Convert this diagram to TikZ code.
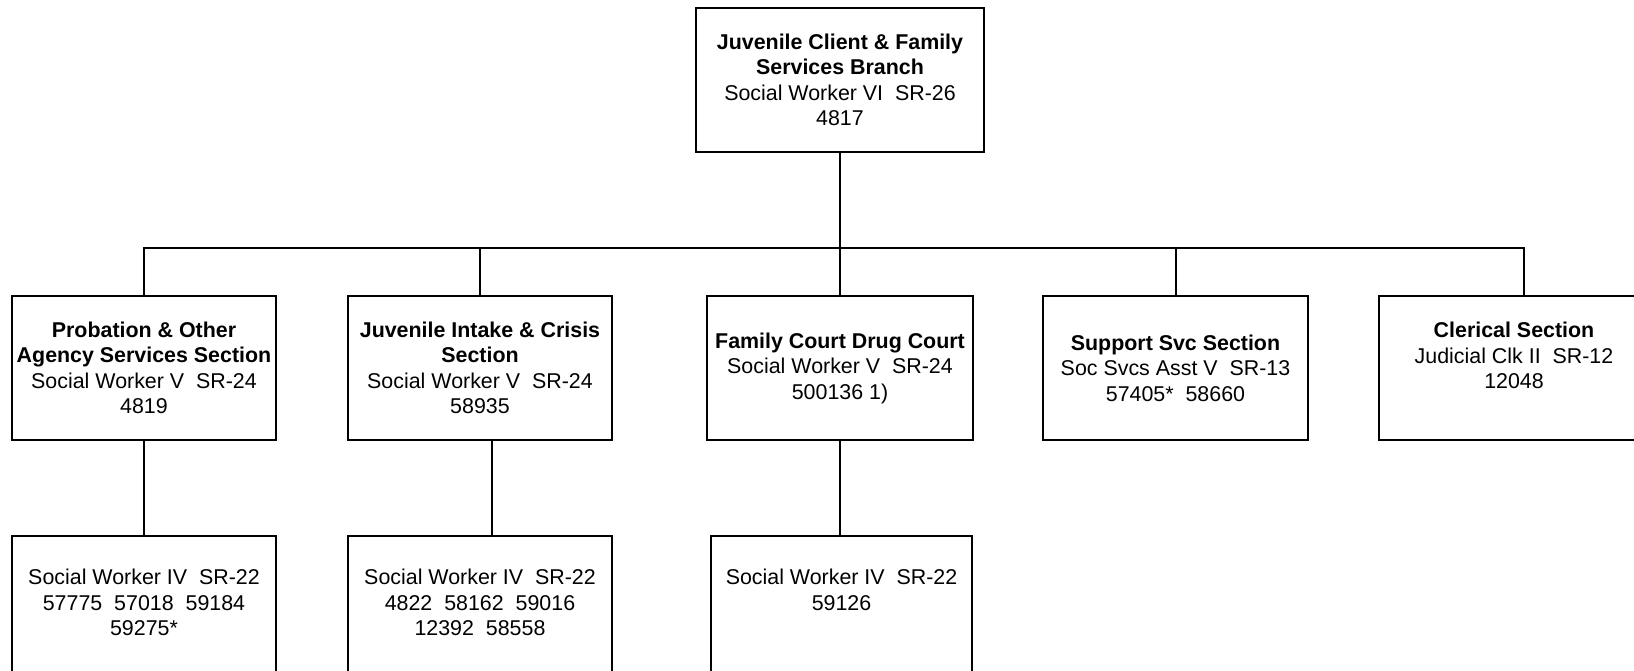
\documentclass[tikz,border=0pt]{standalone}
\usepackage{fontspec}
\setmainfont{Liberation Sans}
\newcommand{\chartfont}{\fontsize{21.4}{25.5}\selectfont}
\begin{document}
\begin{tikzpicture}[x=1pt,y=-1pt,
  box/.style={draw=black,line width=2pt,inner sep=0pt,minimum height=144pt,align=center,font=\chartfont},
  tallbox/.style={draw=black,line width=2pt,inner sep=0pt,minimum height=200pt},
  txt/.style={inner sep=0pt,align=center,font=\chartfont},
  link/.style={draw=black,line width=2pt}]
\useasboundingbox (0,0) rectangle (1634,671);
\fill[white] (0,0) rectangle (1634,671);
\clip (0,0) rectangle (1634,671);
% top
\node[box,minimum width=288pt] (top) at (840,80)
  {\textbf{Juvenile Client \& Family}\\\textbf{Services Branch}\\Social Worker VI\ \ SR-26\\4817};
% level 2
\node[box,minimum width=264pt] (b1) at (144,368)
  {\textbf{Probation \& Other}\\\textbf{Agency Services Section}\\Social Worker V\ \ SR-24\\4819};
\node[box,minimum width=264pt] (b2) at (480,368)
  {\textbf{Juvenile Intake \& Crisis}\\\textbf{Section}\\Social Worker V\ \ SR-24\\58935};
\node[box,minimum width=266pt] (b3) at (840,368)
  {\textbf{Family Court Drug Court}\\Social Worker V\ \ SR-24\\500136 1)};
\node[box,minimum width=265pt] (b4) at (1175.5,368)
  {\textbf{Support Svc Section}\\Soc Svcs Asst V\ \ SR-13\\57405*\ \ 58660};
\node[box,minimum width=266pt] (b5) at (1512,368) {};
\node[txt] (t5) at (1514,355.5)
  {\textbf{Clerical Section}\\Judicial Clk II\ \ SR-12\\12048};
% level 3
\node[tallbox,minimum width=264pt] (b6) at (144,636) {};
\node[txt] (t6) at (144,602.5)
  {Social Worker IV\ \ SR-22\\57775\ \ 57018\ \ 59184\\59275*};
\node[tallbox,minimum width=264pt] (b7) at (480,636) {};
\node[txt] (t7) at (480,602.5)
  {Social Worker IV\ \ SR-22\\4822\ \ 58162\ \ 59016\\12392\ \ 58558};
\node[tallbox,minimum width=261pt] (b8) at (841.5,636) {};
\node[txt] (t8) at (841.5,590)
  {Social Worker IV\ \ SR-22\\59126};
% connectors
\coordinate (bus) at (840,248);
\coordinate (b5c) at ([xshift=12pt]b5.north);
\draw[link] (top.south) -- (bus);
\draw[link] (b1.north) -- (b1.north |- bus) -- (b5c |- bus) -- (b5c);
\draw[link] (b2.north) -- (b2.north |- bus);
\draw[link] (b3.north) -- (b3.north |- bus);
\draw[link] (b4.north) -- (b4.north |- bus);
\draw[link] (b1.south) -- (b6.north);
\draw[link] ([xshift=12pt]b2.south) -- ([xshift=12pt]b7.north);
\draw[link] (b3.south) -- (b3.south |- b8.north);
\end{tikzpicture}
\end{document}
